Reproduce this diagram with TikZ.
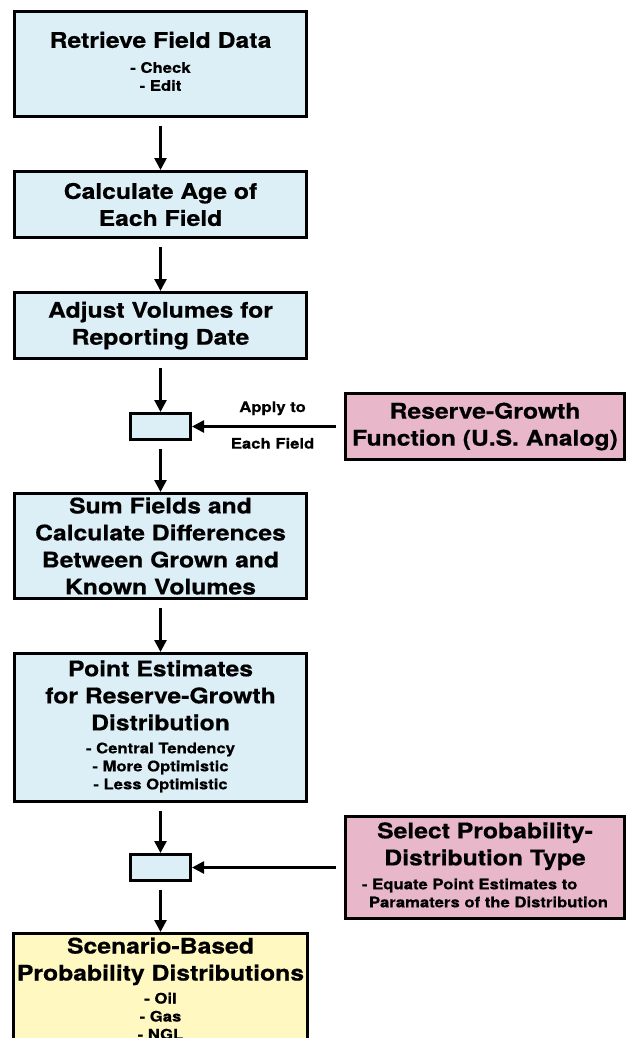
\documentclass[tikz,border=0pt]{standalone}
\usepackage{fontspec}
\setmainfont{TeX Gyre Heros}[FakeStretch=1.15, FakeBold=0.6]
\usetikzlibrary{positioning, arrows.meta}
\definecolor{fieldBlue}{HTML}{DCEEF6}
\definecolor{analogPink}{HTML}{E9B7CA}
\definecolor{resultYellow}{HTML}{FFF8C0}

\newcommand{\stepfont}{\fontsize{21.5}{27}\selectfont\bfseries}
\newcommand{\itemfont}{\fontsize{14.5}{18}\selectfont\bfseries}
\newcommand{\itemlist}[2][c]{{\itemfont\begin{tabular}[t]{@{}#1@{}}#2\end{tabular}}}

\begin{document}
\begin{tikzpicture}[
  x=1pt, y=-1pt,
  node distance=52pt,
  block/.style={
    draw=black,
    fill=fieldBlue,
    line width=3pt,
    minimum width=292pt,
    align=center,
    inner sep=3pt,
    font=\stepfont
  },
  joint/.style={
    draw=black,
    fill=fieldBlue,
    line width=3pt,
    minimum width=60pt,
    minimum height=26pt,
    inner sep=0pt
  },
  source/.style={
    block,
    fill=analogPink,
    minimum width=279pt
  },
  arrow/.style={
    -{Triangle[length=12pt,width=12pt]},
    draw=black,
    line width=2.6pt,
    shorten <=8pt
  },
  note/.style={
    font=\itemfont,
    inner sep=1pt
  }
]
\useasboundingbox (0,0) rectangle (629,1038);

\node[block, minimum height=105pt] (retrieve) at (160.5,64) {
  Retrieve Field Data\\[-2pt]
  \itemlist{- Check\\- Edit}
};

\node[block, minimum height=66pt, below=of retrieve] (age) {
  Calculate Age of\\Each Field
};

\node[block, minimum height=66pt, below=of age] (adjust) {
  Adjust Volumes for\\Reporting Date
};

\node[joint, below=of adjust] (apply) {};

\node[block, minimum height=105pt, below=51pt of apply] (sum) {
  Sum Fields and\\Calculate Differences\\Between Grown and\\Known Volumes
};

\node[block, minimum height=148pt, below=of sum] (estimates) {
  Point Estimates\\for Reserve-Growth\\Distribution\\[-4pt]
  \itemlist{- Central Tendency\\- More Optimistic\\- Less Optimistic}
};

\node[joint, below=50pt of estimates] (choose) {};

\node[block, fill=resultYellow, inner ysep=4pt, below=50pt of choose] (scenario) {
  Scenario-Based\\Probability Distributions\\[-4pt]
  \itemlist{- Oil\\- Gas\\- NGL}
};

% analog inputs on the right
\node[source, minimum height=66pt, right=152pt of apply] (growth) {
  Reserve-Growth\\Function (U.S. Analog)
};

\node[source, minimum height=102pt, right=152pt of choose] (select) {
  Select Probability-\\Distribution Type\\[-3pt]
  \itemlist[l]{- Equate Point Estimates to\\\hspace{7pt}Paramaters of the Distribution}
};

\draw[arrow] (retrieve) -- (age);
\draw[arrow] (age) -- (adjust);
\draw[arrow] (adjust) -- (apply);
\draw[arrow] (apply) -- (sum);
\draw[arrow] (sum) -- (estimates);
\draw[arrow] (estimates) -- (choose);
\draw[arrow] (choose) -- (scenario);
\draw[arrow] (growth) --
  node[note, pos=0.47, above=9pt] {Apply to}
  node[note, pos=0.47, below=9pt] {Each Field}
  (apply);
\draw[arrow] (select) -- (choose);

\end{tikzpicture}
\end{document}
